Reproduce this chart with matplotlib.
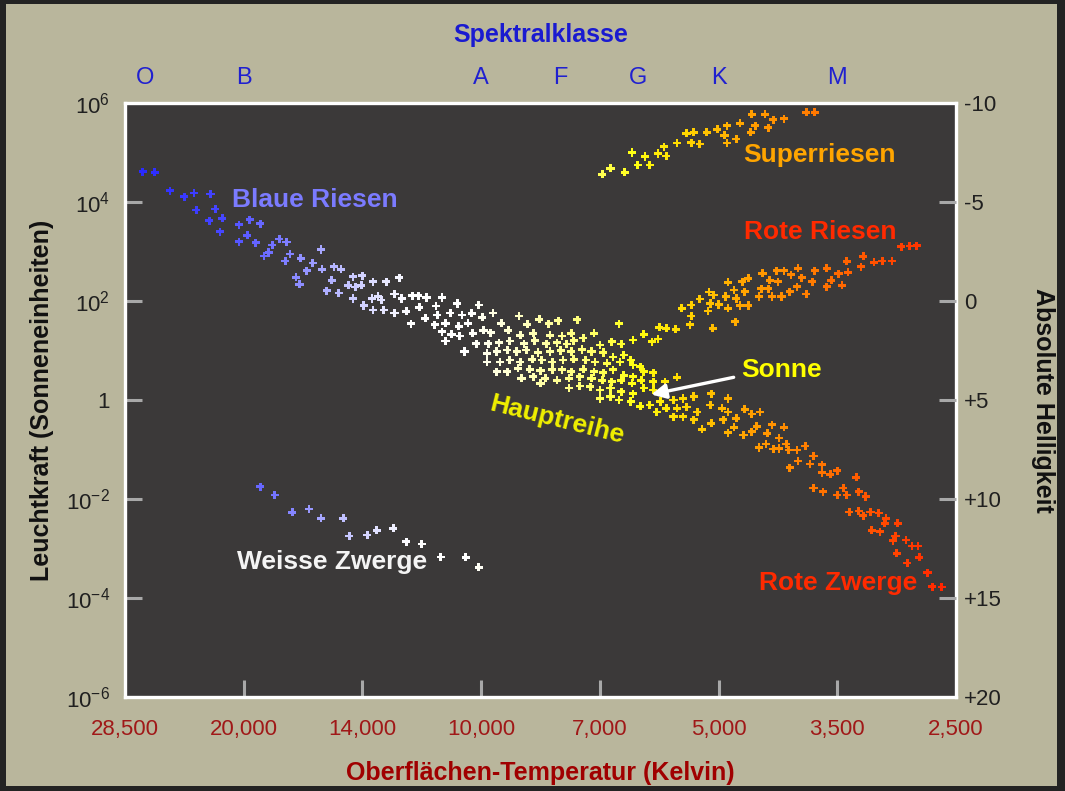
import numpy as np
import matplotlib.pyplot as plt
from matplotlib.colors import LinearSegmentedColormap
from matplotlib.patches import Rectangle

plt.rcParams['font.family'] = ['Liberation Sans', 'DejaVu Sans']
plt.rcParams['mathtext.default'] = 'regular'

# x = position on the temperature scale (one unit per labelled tick), y = log10(L / L_sun)
temp_labels = ['28,500', '20,000', '14,000', '10,000', '7,000', '5,000', '3,500', '2,500']
lum_ticks = [-6, -4, -2, 0, 2, 4, 6]
lum_labels = ['$10^{-6}$', '$10^{-4}$', '$10^{-2}$', '1', '$10^{2}$', '$10^{4}$', '$10^{6}$']
mag_ticks = [-10, -5, 0, 5, 10, 15, 20]
mag_labels = ['-10', '-5', '0', '+5', '+10', '+15', '+20']
class_names = ['O', 'B', 'A', 'F', 'G', 'K', 'M']
class_pos = [0.17, 1.0, 3.0, 3.67, 4.32, 5.0, 6.0]

main_seq = [
    (0.15, 4.61), (0.25, 4.60), (0.38, 4.23), (0.50, 4.11), (0.58, 4.18), (0.72, 4.16),
    (0.60, 3.84), (0.76, 3.86), (0.71, 3.62), (0.82, 3.67), (0.80, 3.40), (0.96, 3.54),
    (1.05, 3.64), (1.14, 3.56), (0.96, 3.20), (1.03, 3.33), (1.10, 3.18), (1.24, 3.13),
    (1.30, 3.25), (1.36, 3.19), (1.17, 2.91), (1.21, 2.98), (1.39, 2.95), (1.35, 2.81),
    (1.48, 2.86), (1.65, 3.04), (1.58, 2.77), (1.53, 2.61), (1.66, 2.64), (1.76, 2.69),
    (1.82, 2.64), (1.44, 2.48), (1.47, 2.34), (1.74, 2.42), (1.70, 2.21), (1.80, 2.16),
    (1.88, 2.32), (1.92, 2.49), (2.00, 2.51), (1.94, 2.28), (1.99, 2.32), (2.09, 2.39),
    (2.20, 2.39), (2.31, 2.47), (1.92, 2.05), (2.01, 1.91), (2.08, 2.05), (2.13, 2.09),
    (2.16, 2.02), (2.09, 1.82), (2.18, 1.82), (2.27, 2.14), (2.33, 2.05), (2.27, 1.76),
    (2.37, 1.79), (2.42, 2.11), (2.47, 2.11), (2.54, 2.07), (2.67, 2.07), (2.48, 1.87),
    (2.62, 1.90), (2.53, 1.65), (2.41, 1.54), (2.63, 1.72), (2.61, 1.52), (2.70, 1.55),
    (2.74, 1.76), (2.67, 1.38), (2.75, 1.33), (2.70, 1.19),
    (2.80, 1.95), (2.98, 1.92), (3.10, 1.76), (3.32, 1.70), (3.49, 1.63), (3.65, 1.60),
    (3.81, 1.62), (4.16, 1.54), (2.84, 1.72), (2.92, 1.75), (3.01, 1.67), (2.81, 1.49),
    (2.89, 1.55), (3.17, 1.55), (3.39, 1.53), (3.57, 1.54), (3.95, 1.35), (3.76, 1.35),
    (4.37, 1.33),
    (2.82, 1.29), (2.93, 1.35), (3.02, 1.41), (3.08, 1.36), (3.23, 1.41), (3.33, 1.31),
    (3.44, 1.35), (3.58, 1.31), (3.68, 1.29), (3.78, 1.20), (3.86, 1.25),
    (2.96, 1.14), (3.06, 1.14), (3.15, 1.16), (3.24, 1.19), (3.36, 1.14), (3.45, 1.20),
    (3.55, 1.14), (3.64, 1.16), (3.72, 1.13), (4.00, 1.11), (4.10, 1.18), (4.18, 1.13),
    (4.28, 1.21), (4.44, 1.18), (4.49, 1.23),
    (2.86, 0.98), (3.05, 0.94), (3.13, 0.98), (3.22, 1.01), (3.30, 0.98), (3.38, 1.01),
    (3.48, 0.96), (3.58, 0.98), (3.67, 1.00), (3.76, 0.98), (3.85, 1.02), (3.93, 0.98),
    (4.03, 0.96), (4.11, 0.87), (4.20, 0.91),
    (3.05, 0.77), (3.16, 0.77), (3.24, 0.81), (3.33, 0.77), (3.43, 0.82), (3.51, 0.81),
    (3.60, 0.77), (3.69, 0.81), (3.78, 0.82), (3.88, 0.81), (3.96, 0.77), (4.06, 0.74),
    (4.17, 0.77), (4.26, 0.81), (4.28, 0.71), (4.34, 0.67),
    (3.13, 0.57), (3.22, 0.57), (3.31, 0.64), (3.41, 0.62), (3.50, 0.59), (3.60, 0.61),
    (3.68, 0.61), (3.76, 0.57), (3.86, 0.62), (3.95, 0.57), (4.03, 0.55), (4.11, 0.61),
    (4.20, 0.50), (4.28, 0.47), (4.37, 0.57), (4.45, 0.55),
    (3.34, 0.44), (3.44, 0.47), (3.54, 0.44), (3.64, 0.40), (3.74, 0.44), (3.83, 0.47),
    (3.93, 0.44), (4.02, 0.40), (4.10, 0.37), (4.18, 0.40), (4.27, 0.34), (4.35, 0.40),
    (4.45, 0.37), (4.55, 0.37), (4.65, 0.46),
    (3.50, 0.34), (3.74, 0.24), (3.83, 0.28), (3.92, 0.27), (4.00, 0.20), (4.09, 0.24),
    (4.18, 0.17), (4.28, 0.13), (4.37, 0.24), (4.45, 0.20),
    (4.00, 0.03), (4.09, 0.07), (4.16, 0.00), (4.26, -0.03), (4.34, -0.13), (4.42, -0.10),
    (4.51, -0.03), (4.62, 0.00), (4.70, 0.03), (4.79, 0.07),
    (4.48, -0.24), (4.56, -0.17), (4.65, -0.17), (4.73, -0.14), (4.62, -0.34), (4.70, -0.34),
    (4.82, -0.24), (4.79, -0.40),
    (5.08, 0.03), (4.94, 0.13), (4.93, -0.10), (5.03, -0.17), (5.08, -0.24), (5.15, -0.37),
    (5.04, -0.40), (4.94, -0.47), (4.86, -0.59), (5.22, -0.19), (5.28, -0.28), (5.35, -0.24),
    (5.32, -0.53), (5.13, -0.55), (5.08, -0.66), (5.21, -0.71), (5.28, -0.64), (5.41, -0.67),
    (5.45, -0.50), (5.55, -0.55), (5.51, -0.77), (5.34, -0.96), (5.40, -0.89), (5.46, -0.99),
    (5.51, -0.98), (5.57, -0.89), (5.59, -1.01), (5.66, -1.01), (5.73, -0.93), (5.80, -1.13),
    (5.67, -1.23), (5.60, -1.37), (5.77, -1.29), (5.87, -1.31), (5.87, -1.47), (5.94, -1.50),
    (6.00, -1.43), (5.80, -1.78), (5.88, -1.85), (6.00, -1.92), (6.05, -1.78), (6.08, -1.92),
    (6.16, -1.56), (6.18, -1.85), (6.24, -1.95), (6.10, -2.26), (6.18, -2.24), (6.22, -2.34),
    (6.28, -2.26), (6.35, -2.28), (6.41, -2.39), (6.40, -2.49), (6.51, -2.49), (6.29, -2.63),
    (6.36, -2.66), (6.49, -2.75), (6.47, -2.84), (6.58, -2.83), (6.63, -2.95), (6.68, -2.95),
    (6.50, -3.10), (6.69, -3.18), (6.59, -3.29), (6.76, -3.49), (6.80, -3.77), (6.88, -3.78),
]

super_giants = [
    (4.02, 4.56), (4.09, 4.68), (4.21, 4.60), (4.27, 5.00), (4.32, 4.75), (4.38, 4.92),
    (4.42, 4.75), (4.49, 4.98), (4.54, 5.12), (4.56, 4.93), (4.65, 5.19), (4.73, 5.39),
    (4.79, 5.41), (4.77, 5.20), (4.84, 5.17), (4.90, 5.41), (4.99, 5.47), (5.05, 5.35),
    (5.07, 5.54), (5.07, 5.19), (5.15, 5.27), (5.18, 5.59), (5.27, 5.41), (5.31, 5.54),
    (5.28, 5.77), (5.39, 5.77), (5.42, 5.50), (5.46, 5.66), (5.55, 5.68), (5.74, 5.81),
    (5.81, 5.81),
]

red_giants = [
    (6.54, 3.10), (6.61, 3.11), (6.67, 3.12), (6.46, 2.81), (6.38, 2.81), (6.31, 2.78),
    (6.22, 2.90), (6.20, 2.69), (6.09, 2.58), (6.08, 2.80), (6.01, 2.55), (6.04, 2.32),
    (5.91, 2.66), (5.91, 2.29), (5.95, 2.42), (5.81, 2.61), (5.79, 2.39), (5.74, 2.14),
    (5.70, 2.47), (5.67, 2.66), (5.66, 2.29), (5.61, 2.53), (5.60, 2.19), (5.55, 2.61),
    (5.53, 2.09), (5.49, 2.61), (5.50, 2.39), (5.45, 2.09), (5.42, 2.25), (5.43, 2.42),
    (5.37, 2.56), (5.36, 2.25), (5.34, 2.09), (5.25, 2.46), (5.20, 2.39), (5.22, 2.19),
    (5.13, 2.22), (5.08, 2.38), (5.06, 2.09), (5.15, 2.05), (5.25, 1.91), (5.18, 1.91),
    (5.08, 1.85), (5.00, 1.93), (4.96, 2.12), (4.93, 1.95), (4.92, 2.18), (4.84, 2.04),
    (4.91, 1.80), (4.95, 1.45), (5.14, 1.58),
    (4.50, 1.47), (4.56, 1.45), (4.64, 1.43), (4.76, 1.52), (4.69, 1.85), (4.77, 1.92),
    (4.77, 1.70),
]

white_dwarfs = [
    (1.14, -1.75), (1.26, -1.92), (1.41, -2.27), (1.55, -2.20), (1.65, -2.39), (1.84, -2.39),
    (1.89, -2.75), (2.04, -2.73), (2.12, -2.63), (2.26, -2.59), (2.37, -2.86), (2.50, -2.91),
    (2.66, -3.17), (2.87, -3.18), (2.98, -3.38),
]

# star colour along the temperature scale
color_pos = [0.0, 0.8, 1.3, 1.9, 2.4, 2.9, 3.4, 3.9, 4.3, 4.7, 5.2, 5.8, 6.3, 7.0]
color_list = ['#2424ff', '#4646ff', '#7878ff', '#c8c8ff', '#ffffff', '#ffffff', '#ffffb8',
              '#ffff70', '#ffff10', '#ffd800', '#ffa500', '#ff7a00', '#ff5200', '#ff1e00']
star_cmap = LinearSegmentedColormap.from_list(
    'hr', list(zip(np.array(color_pos) / 7.0, color_list)))

fig = plt.figure(figsize=(10.65, 7.91), dpi=100)
fig.patch.set_facecolor('#232323')
fig.add_artist(Rectangle((6 / 1065, 1 - 786 / 791), 1051 / 1065, 782 / 791,
                         transform=fig.transFigure, facecolor='#b9b69c',
                         edgecolor='none', zorder=0))

ax = fig.add_axes([125 / 1065, 1 - 697 / 791, 831 / 1065, 594 / 791])
ax.set_facecolor('#3b3939')
ax.set_xlim(0, 7)
ax.set_ylim(-6, 6)

for group in [main_seq, super_giants, red_giants, white_dwarfs]:
    gx, gy = np.array(group).T
    ax.scatter(gx, gy, c=star_cmap(gx / 7.0), s=34, marker='P', linewidths=0, zorder=3)

for s in ax.spines.values():
    s.set_color('white')
    s.set_linewidth(2.4)
    s.set_zorder(5)

ax.set_xticks(range(8), temp_labels)
ax.set_yticks(lum_ticks, lum_labels)
ax.tick_params(direction='in', length=12, width=2.2, color='#a8a8a8')
ax.tick_params(axis='x', labelsize=16, labelcolor='#a01818', pad=16)
ax.tick_params(axis='y', labelsize=16, labelcolor='#202020', pad=11)
for tk in (ax.xaxis.get_major_ticks()[0], ax.xaxis.get_major_ticks()[-1],
           ax.yaxis.get_major_ticks()[0], ax.yaxis.get_major_ticks()[-1]):
    tk.tick1line.set_visible(False)

ax.set_xlabel('Oberflächen-Temperatur (Kelvin)', fontsize=18, fontweight='bold',
              color='#a00000', labelpad=15)
ax.set_ylabel('Leuchtkraft (Sonneneinheiten)', fontsize=18, fontweight='bold',
              color='#111111', labelpad=8)

ax2 = ax.twinx()
ax2.set_ylim(20, -10)
ax2.set_yticks(mag_ticks, mag_labels)
ax2.tick_params(direction='in', length=12, width=2.2, color='#a8a8a8',
                labelsize=16, labelcolor='#202020', pad=6)
for tk in (ax2.yaxis.get_major_ticks()[0], ax2.yaxis.get_major_ticks()[-1]):
    tk.tick2line.set_visible(False)
for s in ax2.spines.values():
    s.set_visible(False)
ax2.set_ylabel('Absolute Helligkeit', fontsize=18, fontweight='bold', color='#111111',
               rotation=270, labelpad=38)

top = ax.secondary_xaxis('top')
top.set_xticks(class_pos, class_names)
top.tick_params(length=0, labelsize=17, labelcolor='#2020d0', pad=10)
for s in top.spines.values():
    s.set_visible(False)
top.set_xlabel('Spektralklasse', fontsize=18, fontweight='bold', color='#1a1ad0',
               labelpad=18)

lbl = dict(fontsize=19, fontweight='bold', ha='center', va='center', zorder=4)
ax.text(1.60, 4.04, 'Blaue Riesen', color='#7b7bff', **lbl)
ax.text(5.85, 4.95, 'Superriesen', color='#ffa500', **lbl)
ax.text(5.86, 3.39, 'Rote Riesen', color='#ff2a00', **lbl)
ax.text(5.53, 0.61, 'Sonne', color='#ffff00', **lbl)
ax.text(3.64, -0.40, 'Hauptreihe', color='#f0f000', rotation=-14, **lbl)
ax.text(1.74, -3.27, 'Weisse Zwerge', color='#f4f4f4', **lbl)
ax.text(6.01, -3.70, 'Rote Zwerge', color='#ff2a00', **lbl)
ax.annotate('', xy=(4.41, 0.10), xytext=(5.15, 0.47),
            arrowprops=dict(arrowstyle='-|>', color='white', lw=2.4, mutation_scale=22),
            zorder=4)

fig.savefig('out.png', dpi=100, facecolor=fig.get_facecolor())
